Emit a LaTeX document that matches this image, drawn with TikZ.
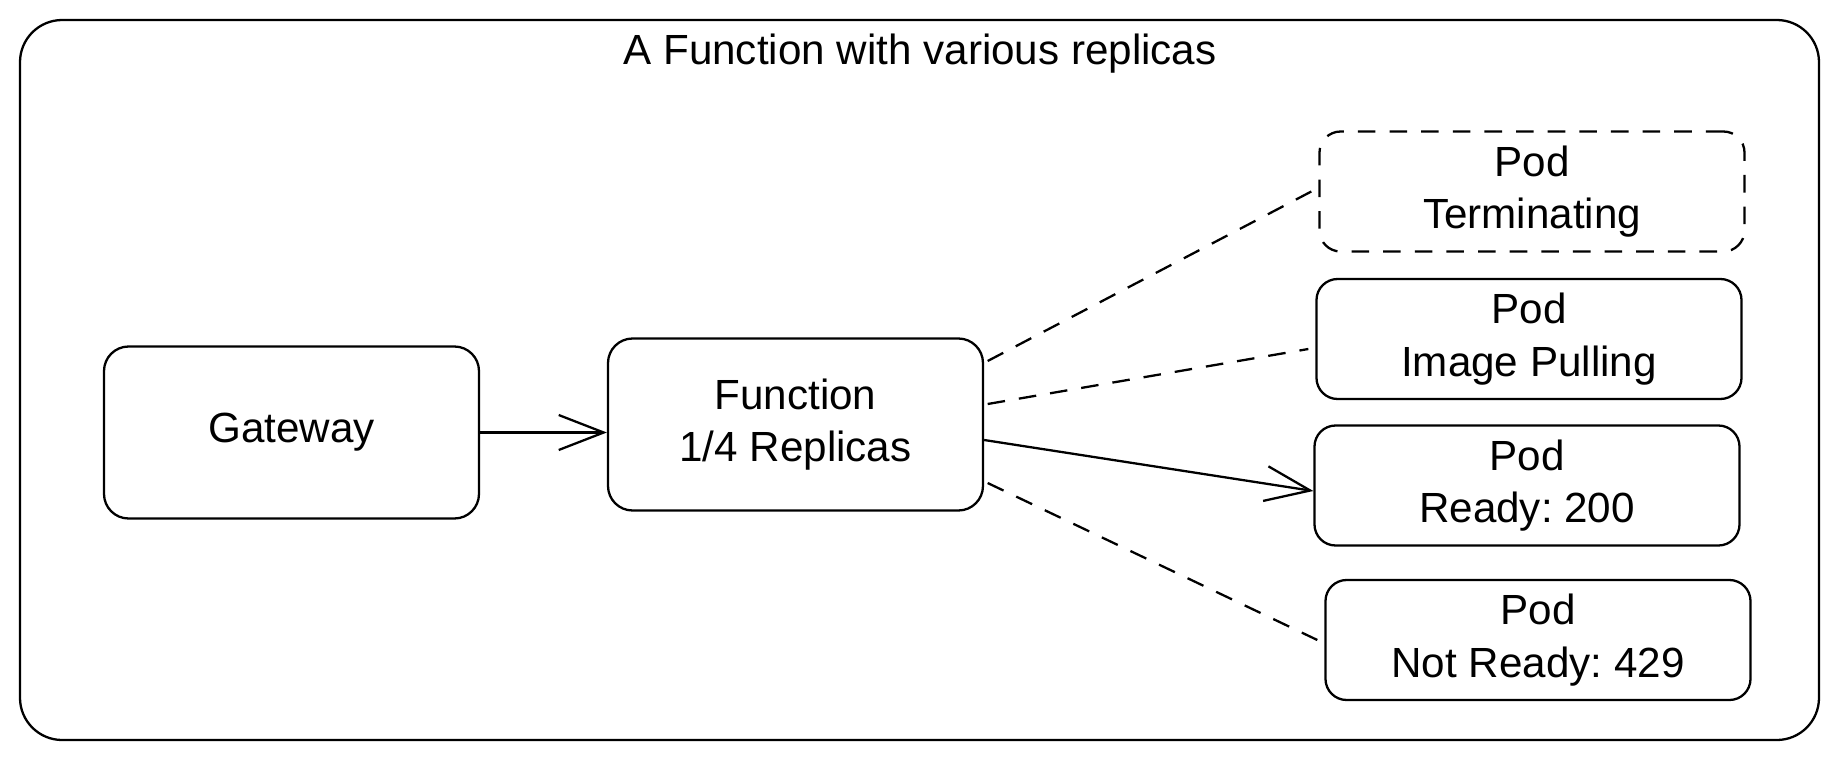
\documentclass[tikz,border=0pt]{standalone}
\usepackage{fontspec}
\setmainfont{Liberation Sans}
\usepackage{tikz}
\usetikzlibrary{arrows.meta,positioning,calc}
\frenchspacing

\begin{document}
\begin{tikzpicture}[>={Straight Barb[length=9mm,width=7mm]},
  font=\fontsize{24}{30}\selectfont,line width=1.3pt,
  box/.style={draw,rounded corners=14pt,align=center,
              minimum width=7.5cm,minimum height=3.44cm,inner sep=4pt},
  pod/.style={draw,rounded corners=12pt,align=center,
              minimum width=8.5cm,minimum height=2.4cm,inner sep=4pt},
  gone/.style={pod,dash pattern=on 10pt off 8pt},
  link/.style={dash pattern=on 10pt off 8pt},
  flow/.style={->}]
\useasboundingbox (0,0) rectangle (36.76,-15.18);
\draw[rounded corners=24pt] (0.40,-0.40) rectangle (36.38,-14.80);
\node (title) at (18.4,-1.08) {A Function with various replicas};

\node[box] (gw) at (5.83,-8.65) {Gateway};
\node[box] (fn) at (15.91,-8.49) {Function\\1/4 Replicas};

\node[gone] (term) at (30.64,-3.83) {Pod\\Terminating};
\node[pod] (pull) at (30.58,-6.78) {Pod\\Image Pulling};
\node[pod] (ready) at (30.54,-9.71) {Pod\\Ready: 200};
\node[pod] (busy) at (30.76,-12.80) {Pod\\Not Ready: 429};

\draw[flow] (gw.east) -- (gw.east -| fn.west);
\draw[link] ([xshift=2pt,yshift=1.27cm]fn.east) -- ([xshift=-4pt]term.west);
\draw[link] ([xshift=2pt,yshift=0.41cm]fn.east) -- ([xshift=-4pt,yshift=-0.2cm]pull.west);
\draw[flow] ([yshift=-0.31cm]fn.east) -- ([yshift=-0.11cm]ready.west);
\draw[link] ([xshift=2pt,yshift=-1.17cm]fn.east) -- ([xshift=-4pt]busy.west);
\end{tikzpicture}
\end{document}
